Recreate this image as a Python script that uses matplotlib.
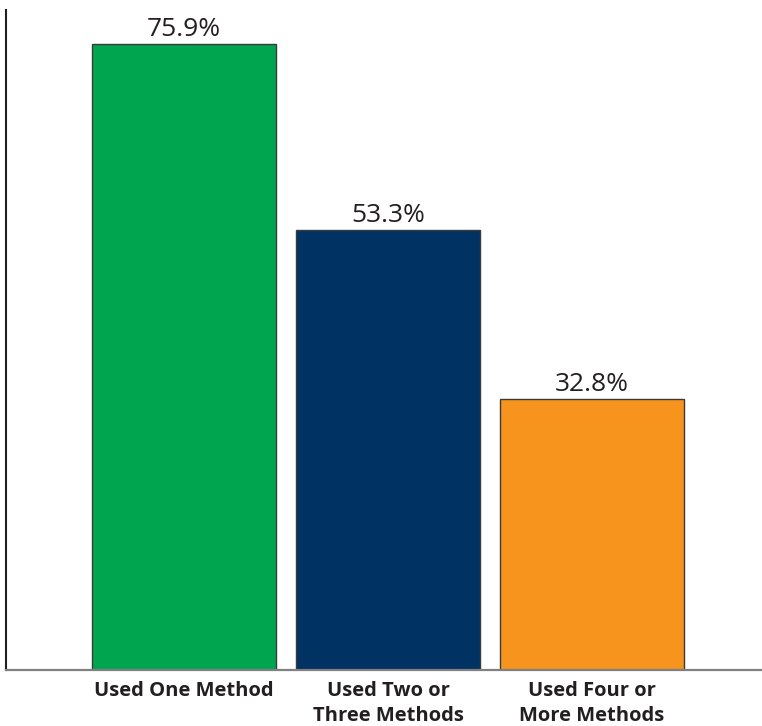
import matplotlib
matplotlib.use("Agg")
from matplotlib import pyplot as plt

categories = ["Used One Method", "Used Two or\nThree Methods", "Used Four or\nMore Methods"]
values = [75.9, 53.3, 32.8]
labels = ["75.9%", "53.3%", "32.8%"]
colors = ["#00A64F", "#003264", "#F7941E"]

plt.rcParams["font.family"] = ["Open Sans", "DejaVu Sans"]

fig = plt.figure(figsize=(7.62, 7.26), dpi=100)
ax = fig.add_axes([0.0085, 0.0778, 0.9915, 0.9084])

x = range(len(values))
bars = ax.bar(x, values, width=0.9, color=colors, edgecolor="#3a3a3a", linewidth=1.0)

for b, lab in zip(bars, labels):
    ax.annotate(lab, (b.get_x() + b.get_width() / 2, b.get_height()),
                xytext=(0, 1.5), textcoords="offset points",
                ha="center", va="bottom", fontsize=19, color="#231F20")

ax.set_ylim(0, 80)
ax.set_xlim(-0.87, 2.833)
ax.set_xticks(list(x))
ax.set_xticklabels(categories, fontsize=14.5, fontweight="bold", color="#231F20",
                   linespacing=1.35)
ax.tick_params(axis="x", length=0, pad=8)
ax.set_yticks([])

for s in ["top", "right"]:
    ax.spines[s].set_visible(False)
ax.spines["left"].set_color("#231F20")
ax.spines["left"].set_linewidth(1.5)
ax.spines["bottom"].set_color("#808080")
ax.spines["bottom"].set_linewidth(1.6)

plt.savefig("out.png", dpi=100)
